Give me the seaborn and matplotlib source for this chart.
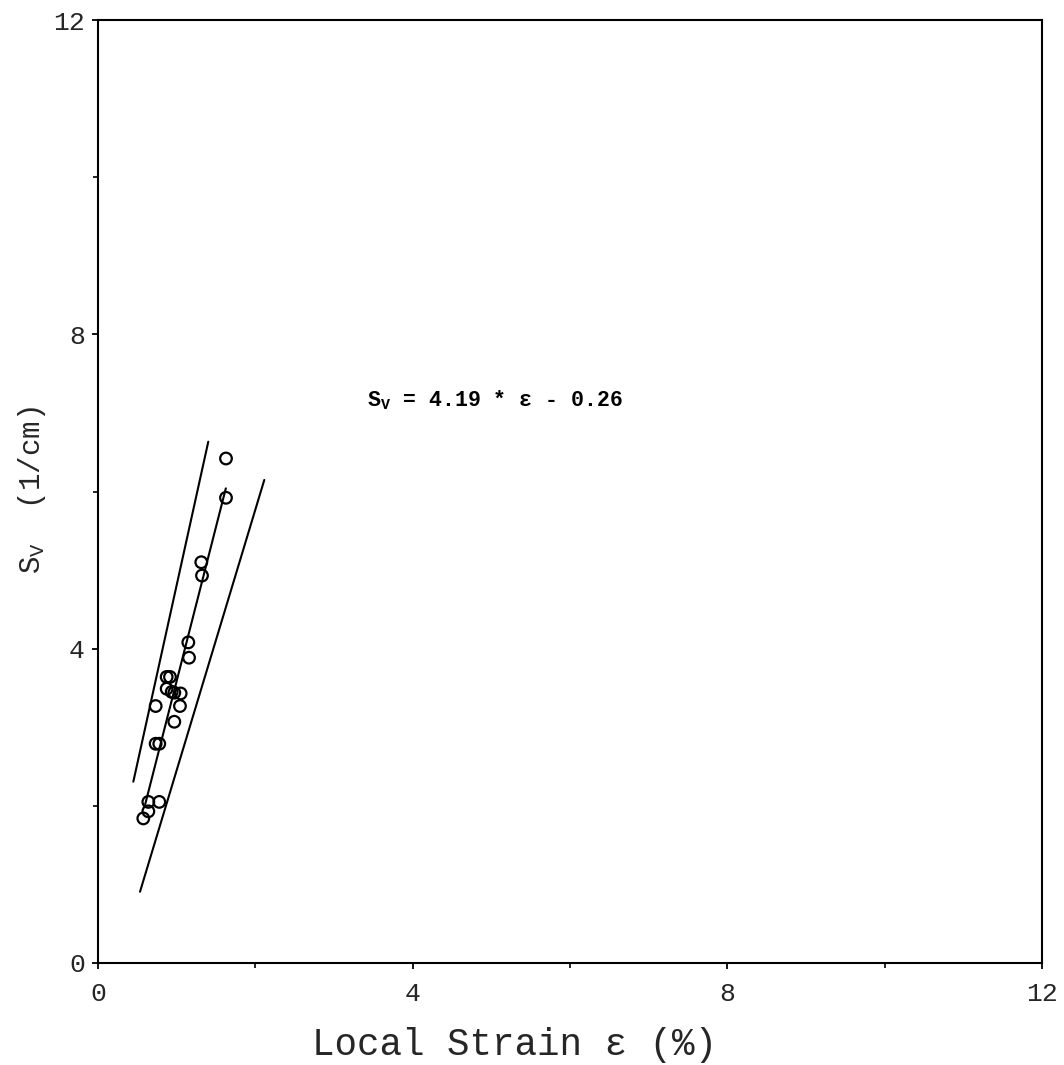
import matplotlib
matplotlib.use("Agg")
import matplotlib.pyplot as plt
import seaborn as sns
import numpy as np
import pandas as pd

# Data
strain = [1.627, 1.627, 1.313, 1.322, 1.148, 1.157, 0.873, 0.915, 0.873, 0.937,
          0.970, 1.051, 1.042, 0.733, 0.970, 0.733, 0.779, 0.640, 0.779, 0.640, 0.576]
sv = [6.42, 5.92, 5.10, 4.93, 4.08, 3.885, 3.64, 3.64, 3.49, 3.45,
      3.44, 3.43, 3.27, 3.27, 3.07, 2.79, 2.79, 2.05, 2.05, 1.93, 1.84]

fit_x = [0.60, 1.625]
fit_y = [2.02, 6.04]

upper_x = [0.449, 1.402]
upper_y = [2.307, 6.634]

lower_x = [0.534, 2.114]
lower_y = [0.907, 6.147]

x_ticks = [0, 4, 8, 12]
y_ticks = [0, 4, 8, 12]
equation = r"S$_{\mathregular{V}}$ = 4.19 * ε - 0.26"

sns.set_theme(style="ticks")
plt.rcParams['font.family'] = ['Liberation Mono', 'DejaVu Sans']
plt.rcParams['mathtext.fontset'] = 'custom'
plt.rcParams['mathtext.rm'] = 'Liberation Mono'

fig = plt.figure(figsize=(10.64, 10.65), dpi=100)
ax = fig.add_axes([98/1064, 1 - 963/1065, (1042-98)/1064, (963-20)/1065])

df = pd.DataFrame({"strain": strain, "sv": sv})
sns.scatterplot(data=df, x="strain", y="sv", ax=ax, marker="o", s=70,
                facecolor="none", edgecolor="black", linewidth=1.6, zorder=3)

for xs, ys in [(fit_x, fit_y), (upper_x, upper_y), (lower_x, lower_y)]:
    sns.lineplot(x=xs, y=ys, ax=ax, color="black", linewidth=1.5,
                 sort=False, estimator=None, zorder=2)

ax.set_xlim(0, 12)
ax.set_ylim(0, 12)
ax.set_xticks(x_ticks)
ax.set_yticks(y_ticks)
ax.set_xticks([2, 6, 10], minor=True)
ax.set_yticks([2, 6, 10], minor=True)
ax.set_xticklabels([str(t) for t in x_ticks], fontsize=19)
ax.set_yticklabels([str(t) for t in y_ticks], fontsize=19)
ax.tick_params(axis="both", which="major", direction="out", length=4.5, width=1.3,
               color="black")
ax.tick_params(axis="x", which="major", pad=9)
ax.tick_params(axis="y", which="major", pad=5)
ax.tick_params(axis="both", which="minor", direction="out", length=3.5, width=1.2,
               color="black")
for sp in ax.spines.values():
    sp.set_visible(True)
    sp.set_linewidth(1.5)
    sp.set_color("black")

ax.set_xlabel("Local Strain ε (%)", fontsize=27)
ax.set_ylabel(r"S$_{\mathregular{V}}$  (1/cm)", fontsize=21)
ax.xaxis.set_label_coords((515-98)/944, -0.068)
ax.yaxis.set_label_coords(-0.053, (963-490)/943)

ax.text(3.42, 7.16, equation, fontsize=15.5, fontweight="bold",
        ha="left", va="center", color="black")

fig.savefig("out.png", dpi=100, facecolor="white")
